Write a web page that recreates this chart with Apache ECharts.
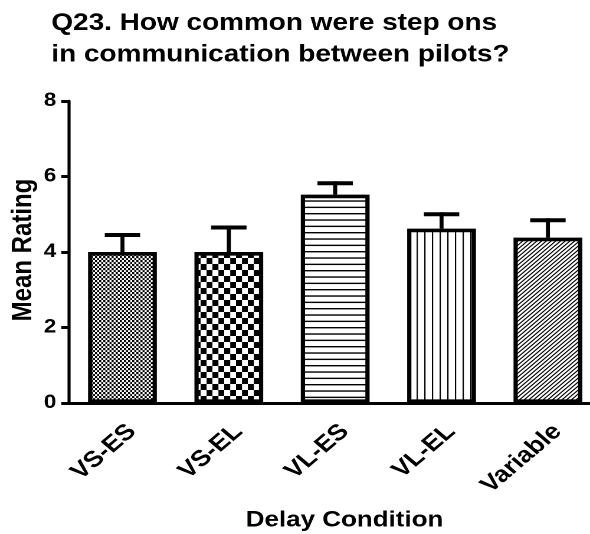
<!DOCTYPE html>
<html>
<head>
<meta charset="utf-8">
<script src="https://cdn.jsdelivr.net/npm/echarts@6/dist/echarts.min.js"></script>
<style>
html,body{margin:0;padding:0;background:#fff;overflow:hidden;width:590px;height:534px;}
#c{width:520px;height:534px;transform:scaleX(1.18);transform-origin:0 0;}
</style>
</head>
<body>
<div id="c"></div>
<script>
const categories = ['VS-ES', 'VS-EL', 'VL-ES', 'VL-EL', 'Variable'];
const means = [4.0, 4.0, 5.52, 4.62, 4.38];
const sem = [0.45, 0.65, 0.30, 0.38, 0.46];
const yTicks = [0, 2, 4, 6, 8];

function makePattern(w, h, draw) {
  const r = 2;
  const c = document.createElement('canvas');
  c.width = w * r; c.height = h * r;
  const ctx = c.getContext('2d');
  ctx.scale(r, r);
  ctx.fillStyle = '#fff'; ctx.fillRect(0, 0, w, h);
  ctx.fillStyle = '#000'; ctx.strokeStyle = '#000';
  draw(ctx, w, h);
  return { image: c, repeat: 'repeat', scaleX: 1 / r, scaleY: 1 / r };
}
const patterns = [
  makePattern(3.6, 4.2, (g, w, h) => { g.fillRect(0, 0, w / 2, h / 2); g.fillRect(w / 2, h / 2, w / 2, h / 2); }),
  makePattern(10.2, 12, (g, w, h) => { g.fillRect(0, 0, w / 2, h / 2); g.fillRect(w / 2, h / 2, w / 2, h / 2); }),
  makePattern(6, 19, (g, w) => { for (let k = 0; k < 3; k++) g.fillRect(0, k * 19 / 3 + 4, w, 1.4); }),
  makePattern(13, 8, (g, w, h) => { g.fillRect(2, 0, 1.1, h); g.fillRect(8.5, 0, 1.1, h); }),
  makePattern(4, 4, (g, w, h) => {
    g.lineWidth = 1.0;
    g.beginPath();
    g.moveTo(-1, h + 1); g.lineTo(w + 1, -1);
    g.moveTo(-1, 1); g.lineTo(1, -1);
    g.moveTo(w - 1, h + 1); g.lineTo(w + 1, h - 1);
    g.stroke();
  })
];

const font = '"Liberation Sans", Arial, Helvetica, sans-serif';

const chart = echarts.init(document.getElementById('c'), null, { renderer: 'canvas', devicePixelRatio: 2 });
chart.setOption({
  backgroundColor: '#fff',
  animation: false,
  title: {
    text: 'Q23. How common were step ons\nin communication between pilots?',
    left: 43.5, top: 7.5, padding: 0,
    textStyle: { fontFamily: font, fontWeight: 'bold', fontSize: 23.7, color: '#000', lineHeight: 31.6 }
  },
  grid: { left: 58.7, top: 101, width: 450.7, height: 302 },
  xAxis: {
    type: 'category',
    data: categories,
    axisLine: { lineStyle: { color: '#000', width: 3 } },
    axisTick: { alignWithLabel: true, length: 8, lineStyle: { color: '#000', width: 2.6 } },
    axisLabel: { rotate: 45, margin: 17, verticalAlign: 'top', color: '#000', fontFamily: font, fontWeight: 'bold', fontSize: 22.5 }
  },
  yAxis: {
    type: 'value', min: 0, max: 8, interval: 2,
    axisLine: { show: true, lineStyle: { color: '#000', width: 2.6 } },
    axisTick: { show: true, length: 6.8, lineStyle: { color: '#000', width: 3 } },
    splitLine: { show: false },
    axisLabel: {
      margin: 11, color: '#000', fontFamily: font, fontWeight: 'bold', fontSize: 19,
      formatter: (v) => (yTicks.indexOf(v) >= 0 ? String(v) : '')
    }
  },
  graphic: [
    {
      type: 'text', x: 292, y: 520.5,
      style: { text: 'Delay Condition', fill: '#000', font: 'bold 22px ' + font, textAlign: 'center', textVerticalAlign: 'middle' }
    },
    {
      type: 'text', x: 20, y: 250, rotation: Math.PI / 2,
      style: { text: 'Mean Rating', fill: '#000', font: 'bold 24px ' + font, textAlign: 'center', textVerticalAlign: 'middle' }
    }
  ],
  series: [
    {
      type: 'bar',
      barWidth: 58.3,
      data: means.map((v, i) => ({
        value: v,
        itemStyle: { color: patterns[i], borderColor: '#000', borderWidth: 3.6 }
      })),
      z: 2
    },
    {
      type: 'custom',
      z: 3,
      data: means.map((v, i) => [i, v, v + sem[i]]),
      renderItem: (params, api) => {
        const p0 = api.coord([api.value(0), api.value(1)]);
        const p1 = api.coord([api.value(0), api.value(2)]);
        const half = 15;
        return {
          type: 'group',
          children: [
            { type: 'line', shape: { x1: p0[0], y1: p0[1], x2: p1[0], y2: p1[1] - 2 }, style: { stroke: '#000', lineWidth: 3.4 } },
            { type: 'line', shape: { x1: p1[0] - half, y1: p1[1], x2: p1[0] + half, y2: p1[1] }, style: { stroke: '#000', lineWidth: 4, lineCap: 'butt' } }
          ]
        };
      }
    }
  ]
});
</script>
</body>
</html>
